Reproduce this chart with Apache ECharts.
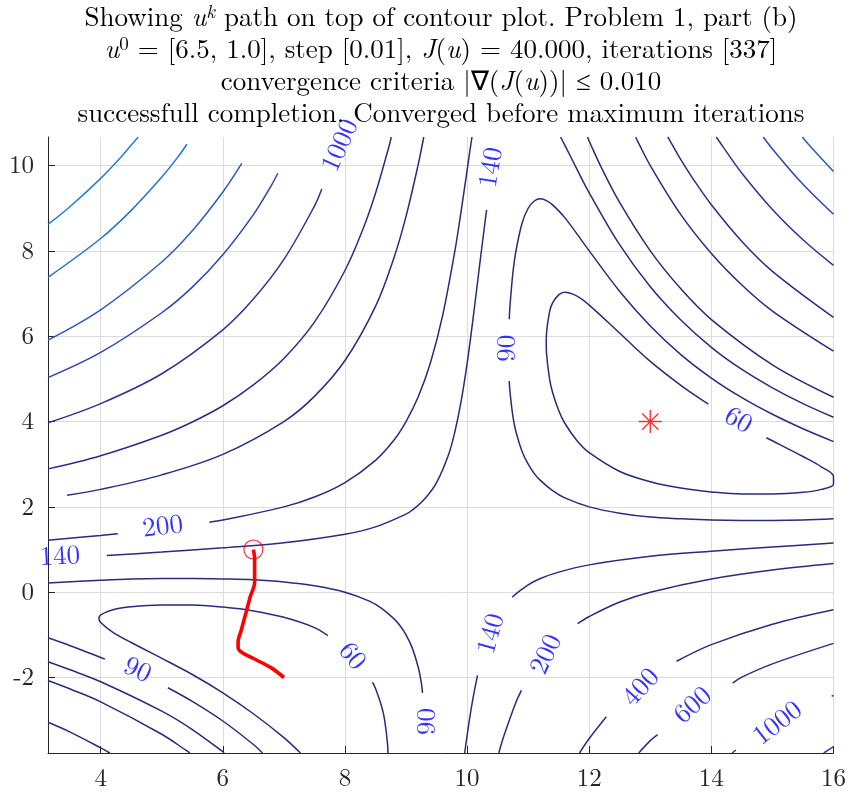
<!DOCTYPE html>
<html><head><meta charset="utf-8">
<script src="https://cdn.jsdelivr.net/npm/echarts@6/dist/echarts.min.js"></script>
<style>html,body{margin:0;padding:0;background:#fff}#c{width:849px;height:795px}</style>
</head><body><div id="c"></div>
<script>
// ---- axis ranges and ticks ----
const xRange = [3.137, 16];
const yRange = [-3.77, 10.67];
const xTicks = [4, 6, 8, 10, 12, 14, 16];
const yTicks = [-2, 0, 2, 4, 6, 8, 10];

// ---- contour pieces (u1, u2) ----
const c60_right = [[14.9,3.62],[15,3.55],[15.5,3.18],[15.8,2.94],[16,2.71],[16,2.53],[15.8,2.41],[15.5,2.34],[15,2.30],[14.5,2.30],[14,2.35],[13.5,2.44],[13,2.59],[12.5,2.83],[12,3.27],[11.8,3.55],[11.6,3.96],[11.5,4.26],[11.4,4.68],[11.35,5.00],[11.3,5.61],[11.296,5.84],[11.3,6.06],[11.35,6.57],[11.4,6.78],[11.5,6.97],[11.6,7.03],[11.8,6.94],[12,6.73],[12.5,6.07],[13,5.41],[13.5,4.85],[13.95,4.41]];
const c60_leftA = [[7.27,-3.77],[7,-3.41],[6.5,-2.85],[6,-2.36],[5.5,-1.93],[5,-1.55],[4.5,-1.18],[4.2,-0.94],[4,-0.71],[3.97,-0.61],[4,-0.53],[4.2,-0.41],[4.5,-0.34],[5,-0.30],[5.5,-0.30],[6,-0.35],[6.5,-0.44],[7,-0.59],[7.5,-0.83],[7.72,-1.02]];
const c60_leftB = [[8.45,-2.11],[8.5,-2.26],[8.6,-2.68],[8.65,-3.0],[8.7,-3.61],[8.703,-3.77]];

const c90_rUp = [[10.69,6.40],[10.7,6.67],[10.75,7.49],[10.8,8.0],[10.9,8.65],[11,9.0],[11.1,9.17],[11.2,9.22],[11.3,9.18],[11.4,9.08],[11.6,8.78],[12,8.0],[12.5,7.05],[13,6.24],[13.5,5.57],[14,5.02],[14.5,4.56],[15,4.17],[15.5,3.83],[16,3.53]];
const c90_rLow = [[10.69,4.95],[10.7,4.73],[10.75,4.12],[10.8,3.76],[10.9,3.30],[11,3.0],[11.1,2.78],[11.2,2.62],[11.4,2.38],[11.6,2.21],[12,2.0],[12.5,1.85],[13,1.76],[13.5,1.72],[14,1.69],[14.5,1.68],[15,1.68],[15.5,1.69],[16,1.72]];
const c90_lA = [[9.27,-2.36],[9.25,-2.12],[9.2,-1.76],[9.1,-1.30],[9,-1.0],[8.9,-0.78],[8.8,-0.62],[8.6,-0.38],[8.4,-0.21],[8,0],[7.5,0.15],[7,0.24],[6.5,0.29],[6,0.31],[5.5,0.32],[5,0.32],[4.5,0.31],[4,0.28],[3.137,0.215]];
const c90_lB1 = [[3.137,-1.07],[3.5,-1.255],[4,-1.53],[4.07,-1.57]];
const c90_lB2 = [[5.1,-2.24],[5.5,-2.56],[6,-3.02],[6.5,-3.57],[6.65,-3.77]];

const c140_a = [[4.1,0.86],[5,0.94],[6,1.04],[7,1.16],[8,1.36],[8.5,1.53],[9,1.83],[9.1,1.92],[9.3,2.18],[9.5,2.57],[9.7,3.24],[9.8,3.76],[9.9,4.46],[10,5.36],[10.1,6.44],[10.2,7.61],[10.3,8.75],[10.32,8.96]];
const c140_b1 = [[9.96,-3.77],[10,-3.36],[10.05,-2.88],[10.1,-2.46],[10.17,-1.95]];
const c140_b2 = [[10.74,-0.12],[10.8,-0.04],[11,0.17],[11.2,0.32],[11.5,0.47],[12,0.64],[13,0.84],[14,0.96],[15,1.06],[16,1.15]];
const c140_c = [[3.137,-1.63],[3.5,-1.82],[4,-2.10],[5,-2.79],[5.5,-3.22],[6,-3.74],[6.02,-3.77]];
const c140_d = [[11.53,10.67],[11.6,10.48],[11.8,9.91],[12,9.36],[12.5,8.14],[13,7.16],[13.5,6.38],[14,5.74],[14.5,5.22],[15,4.79],[15.5,4.42],[16,4.10]];

const c200_a1 = [[3.137,1.22],[4,1.33],[4.28,1.37]];
const c200_a2 = [[5.78,1.64],[6,1.69],[7,2.0],[7.5,2.23],[8,2.57],[8.5,3.09],[8.8,3.56],[9,4.0],[9.2,4.58],[9.4,5.38],[9.6,6.49],[9.8,8.0],[9.9,8.91],[10,9.89],[10.05,10.39],[10.08,10.67]];
const c200_b1 = [[10.52,-3.77],[10.6,-3.38],[10.8,-2.58],[10.89,-2.30]];
const c200_b2 = [[11.81,-0.74],[12,-0.57],[12.5,-0.23],[13,0],[14,0.31],[15,0.52],[16,0.67]];
const c200_c = [[3.137,-2.07],[3.5,-2.27],[4,-2.57],[5,-3.33],[5.4,-3.71],[5.46,-3.77]];
const c200_d = [[11.97,10.67],[12,10.57],[12.2,9.95],[12.5,9.13],[13,8.0],[13.5,7.11],[14,6.39],[15,5.33],[16,4.57]];

const c400_a = [[3.45,2.27],[4,2.41],[5,2.75],[6,3.23],[7,4.0],[7.5,4.59],[8,5.43],[8.5,6.70],[8.8,7.83],[9,8.81],[9.2,10.03],[9.29,10.67]];
const c400_b1 = [[11.84,-3.77],[12,-3.43],[12.28,-2.92]];
const c400_b2 = [[13.43,-1.62],[14,-1.23],[15,-0.75],[16,-0.41]];
const c400_c = [[3.137,-3.05],[3.5,-3.28],[4,-3.65],[4.15,-3.77]];
const c400_d = [[12.76,10.67],[12.8,10.55],[13,10.0],[13.5,8.85],[14,7.94],[14.5,7.2],[15,6.59],[16,5.65]];

const c600_a = [[3.137,2.89],[4,3.2],[5,3.68],[5.5,3.99],[6,4.37],[6.5,4.86],[7,5.48],[7.5,6.33],[8,7.54],[8.3,8.53],[8.5,9.35],[8.7,10.34],[8.76,10.67]];
const c600_b1 = [[12.81,-3.77],[13,-3.48],[13.12,-3.34]];
const c600_b2 = [[14.35,-2.13],[14.5,-1.99],[15,-1.68],[16,-1.2]];
const c600_d = [[13.285,10.67],[13.3,10.64],[13.5,10.14],[13.7,9.69],[14,9.08],[14.5,8.22],[15,7.52],[16,6.44]];

const c1000_a = [[3.137,3.97],[4,4.42],[5,5.12],[6,6.15],[6.5,6.87],[7,7.80],[7.5,9.05],[7.62,9.45]];
const c1000_b1 = [[14.34,-3.77],[14.4,-3.70]];
const c1000_b2 = [[15.97,-2.44],[16,-2.42]];
const c1000_d = [[14.08,10.67],[14.1,10.63],[14.2,10.42],[14.5,9.82],[15,8.97],[15.5,8.26],[16,7.66]];

const c1500_a = [[3.137,5.03],[4,5.62],[5,6.55],[5.5,7.15],[6,7.91],[6.5,8.85],[6.8,9.55],[6.9,9.82]];
const c1500_b = [[15.84,-3.77],[16,-3.62]];
const c1500_d = [[14.85,10.67],[15,10.39],[15.5,9.56],[16,8.86]];

const c2000_a = [[3.137,5.91],[4,6.62],[5,7.74],[5.5,8.47],[6,9.38],[6.31,10.05]];
const c2000_d = [[15.49,10.67],[15.6,10.48],[16,9.86]];

const c3000_a = [[3.137,7.38],[4,8.29],[4.5,8.95],[5,9.73],[5.3,10.27],[5.41,10.5]];
const c4000_a = [[3.137,8.62],[3.5,9.04],[4,9.70],[4.3,10.15],[4.5,10.48],[4.615,10.67]];

// ---- descent path and markers ----
const pathU = [[6.5,1.0],[6.52,0.8],[6.52,0.22],[6.45,-0.1],[6.39,-0.42],[6.3,-0.9],[6.25,-1.15],[6.25,-1.3],[6.32,-1.42],[6.55,-1.59],[6.8,-1.78],[7.0,-2.0]];
const startU = [6.5, 1.0];
const optimumU = [13, 4];

// ---- contour labels ----
const labelText = ['1000','140','90','90','60','60','90','140','200','140','200','400','600','1000'];
const labelAt = [[7.913,10.475],[10.385,9.96],[10.647,5.72],[9.337,-3.03],[14.445,4.04],[8.126,-1.49],[4.606,-1.81],[3.329,0.85],[5.015,1.55],[10.385,-0.97],[11.285,-1.45],[12.84,-2.22],[13.69,-2.64],[15.08,-3.06]];
const labelAngle = [66,81,90,90,-30,-50,-25,3,7,75,65,48,42,38];

// ---- titles ----
const titleLines = [
  'Showing {i|u}{sup|k} path on top of contour plot. Problem 1, part (b)',
  '{i|u}{supn|0} = [6.5, 1.0], step [0.01], {i|J}({i|u}) = 40.000, iterations [337]',
  'convergence criteria |\u2207({i|J}({i|u}))| \u2264 0.010',
  'successfull completion. Converged before maximum iterations'
];

// ---- styles ----
const levelColor = {60:'#2a2a80',90:'#2a2a80',140:'#2a2a80',200:'#2a2a80',400:'#2a2b84',600:'#2a2d8a',1000:'#2c3398',1500:'#2e45b6',2000:'#2d5ac9',3000:'#2272dc',4000:'#1e7fe4'};
const pieces = [
  [60,c60_right],[60,c60_leftA],[60,c60_leftB],
  [90,c90_rUp],[90,c90_rLow],[90,c90_lA],[90,c90_lB1],[90,c90_lB2],
  [140,c140_a],[140,c140_b1],[140,c140_b2],[140,c140_c],[140,c140_d],
  [200,c200_a1],[200,c200_a2],[200,c200_b1],[200,c200_b2],[200,c200_c],[200,c200_d],
  [400,c400_a],[400,c400_b1],[400,c400_b2],[400,c400_c],[400,c400_d],
  [600,c600_a],[600,c600_b1],[600,c600_b2],[600,c600_d],
  [1000,c1000_a],[1000,c1000_b1],[1000,c1000_b2],[1000,c1000_d],
  [1500,c1500_a],[1500,c1500_b],[1500,c1500_d],
  [2000,c2000_a],[2000,c2000_d],
  [3000,c3000_a],[4000,c4000_a]
];

const chart = echarts.init(document.getElementById('c'), null, {renderer:'canvas'});
const LM = "'Latin Modern Roman', 'Liberation Serif', serif";

const series = pieces.map(([lv, pts]) => ({
  type:'line', data: pts, showSymbol:false, smooth:0.35, silent:true, z:2,
  lineStyle:{color: levelColor[lv], width:1.5}
}));
series.push({type:'line', data: pathU, showSymbol:false, smooth:0.3, silent:true, z:5,
  lineStyle:{color:'#ff0000', width:3.6}});
series.push({type:'scatter', data:[startU], symbol:'circle', symbolSize:19, z:6, silent:true,
  itemStyle:{color:'rgba(0,0,0,0)', borderColor:'#ff0000', borderWidth:1.2}});
series.push({type:'scatter', data:[optimumU], z:6, silent:true,
  symbol:'path://M12,0L12,24M0,12L24,12M3.5,3.5L20.5,20.5M3.5,20.5L20.5,3.5', symbolSize:23,
  itemStyle:{color:'rgba(0,0,0,0)', borderColor:'#ff0000', borderWidth:1.4}});
series.push({type:'scatter', symbolSize:0, z:7, silent:true,
  data: labelText.map((t,i)=>({value:labelAt[i], label:{formatter:t, rotate:labelAngle[i]}})),
  label:{show:true, position:'inside', color:'#0000ff', fontFamily:LM, fontSize:27}});

const titleRich = {
  i:{fontStyle:'italic', fontFamily:LM, fontSize:27, lineHeight:30},
  sup:{fontStyle:'italic', fontFamily:LM, fontSize:19, lineHeight:18, verticalAlign:'top'},
  supn:{fontFamily:LM, fontSize:19, lineHeight:18, verticalAlign:'top'}
};
const titleY = [18, 50, 82, 114];

chart.setOption({
  animation:false,
  backgroundColor:'#ffffff',
  grid:{left:48, top:137, width:786, height:616, containLabel:false},
  xAxis:{type:'value', min:xRange[0], max:xRange[1], splitNumber:6,
    axisLine:{show:true, onZero:false, lineStyle:{color:'#262626', width:1}},
    axisTick:{show:true, inside:true, length:7, customValues:xTicks, lineStyle:{color:'#262626'}},
    axisLabel:{customValues:xTicks, color:'#262626', fontFamily:LM, fontSize:25, margin:13},
    splitLine:{show:true, lineStyle:{color:'#dcdcdc', width:1}}},
  yAxis:{type:'value', min:yRange[0], max:yRange[1], splitNumber:7,
    axisLine:{show:true, onZero:false, lineStyle:{color:'#262626', width:1}},
    axisTick:{show:true, inside:true, length:7, customValues:yTicks, lineStyle:{color:'#262626'}},
    axisLabel:{customValues:yTicks, color:'#262626', fontFamily:LM, fontSize:25, margin:14},
    splitLine:{show:true, lineStyle:{color:'#dcdcdc', width:1}}},
  graphic: titleLines.map((t,i)=>({type:'text', x:441, y:titleY[i], z:10, silent:true,
    style:{text:t, rich:titleRich, fontFamily:LM, fontSize:27, lineHeight:30, fill:'#000',
      align:'center', verticalAlign:'middle', textAlign:'center', textVerticalAlign:'middle'}})),
  series: series
});
</script></body></html>
